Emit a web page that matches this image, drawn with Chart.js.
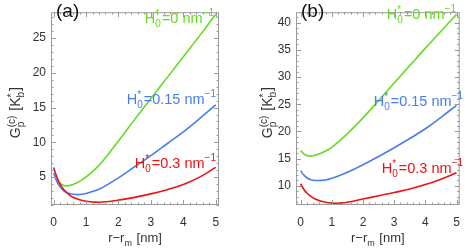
<!DOCTYPE html>
<html>
<head>
<meta charset="utf-8">
<script src="https://cdn.jsdelivr.net/npm/chart.js@4/dist/chart.umd.min.js"></script>
<style>
  html, body { margin: 0; padding: 0; background: #fff; }
  #wrap { position: relative; width: 470px; height: 250px; }
  canvas { position: absolute; top: 0; }
  #chart-a { left: 0; }
  #chart-b { left: 235px; }
</style>
</head>
<body>
<div id="wrap">
  <canvas id="chart-a" width="235" height="250"></canvas>
  <canvas id="chart-b" width="235" height="250"></canvas>
</div>
<script>
// ---------- Data ----------

// r - r_m [nm]
const rValues = [0, 0.1, 0.2, 0.3, 0.4, 0.5, 0.6, 0.8, 1.0, 1.25, 1.5, 2.0, 2.5, 3.0, 3.5, 4.0, 4.5, 5.0];

// panel (a)
const aGreen = [null, 4.6, 4.1, 3.85, 3.75, 3.8, 3.95, 4.4, 5.05, 6.0, 7.2, 10.2, 13.3, 16.3, 19.3, 22.3, 25.3, 28.4];
const aBlue  = [5.6, 4.4, 3.6, 3.1, 2.8, 2.65, 2.55, 2.5, 2.65, 3.0, 3.5, 4.9, 6.5, 8.1, 9.8, 11.5, 13.4, 15.4];
const aRed   = [6.4, 5.0, 4.0, 3.3, 2.8, 2.4, 2.1, 1.75, 1.55, 1.42, 1.42, 1.7, 2.1, 2.6, 3.2, 3.95, 5.0, 6.4];

// panel (b)
const bGreen = [16.5, 15.9, 15.6, 15.5, 15.55, 15.7, 15.9, 16.4, 17.1, 18.3, 19.6, 22.5, 25.7, 28.9, 32.1, 35.3, 38.4, 41.5];
const bBlue  = [12.8, 12.0, 11.5, 11.2, 11.05, 11.0, 11.0, 11.1, 11.4, 11.9, 12.5, 13.9, 15.4, 17.0, 18.7, 20.5, 22.6, 24.8];
const bRed   = [10.4, 9.4, 8.7, 8.2, 7.8, 7.5, 7.3, 7.0, 6.85, 6.85, 7.0, 7.6, 8.2, 8.8, 9.45, 10.25, 11.25, 12.4];

const xTicks = [0, 1, 2, 3, 4, 5];
const aYTicks = [5, 10, 15, 20, 25];
const bYTicks = [10, 15, 20, 25, 30, 35, 40];

const seriesLabels = ["0", "0.15", "0.3"];

const GREEN = "#62dc1e";
const BLUE = "#4a7cf0";
const RED = "#ee1212";
const FONT = '"Liberation Sans", Arial, sans-serif';

// ---------- Helpers ----------

function points(ys) {
  return rValues.map((x, i) => ({ x, y: ys[i] }));
}

// draws text with stacked sub/superscripts; parts are strings or {sub, sup}
function drawRich(ctx, parts, x, y, size, align) {
  const big = `${size}px ${FONT}`;
  const small = `${Math.round(size * 0.68)}px ${FONT}`;
  const widths = parts.map((p) => {
    if (typeof p === "string") {
      ctx.font = big;
      return ctx.measureText(p).width;
    }
    ctx.font = small;
    const ws = p.sub ? ctx.measureText(p.sub).width : 0;
    const wp = p.sup ? ctx.measureText(p.sup).width : 0;
    return Math.max(ws, wp) + 1;
  });
  const total = widths.reduce((a, b) => a + b, 0);
  let cx = align === "center" ? x - total / 2 : align === "right" ? x - total : x;
  ctx.textAlign = "left";
  ctx.textBaseline = "alphabetic";
  parts.forEach((p, i) => {
    if (typeof p === "string") {
      ctx.font = big;
      ctx.fillText(p, cx, y);
    } else {
      ctx.font = small;
      if (p.sub) ctx.fillText(p.sub, cx, y + size * 0.28);
      if (p.sup) ctx.fillText(p.sup, cx, y - size * (p.sub ? 0.38 : 0.45));
    }
    cx += widths[i];
  });
}

function hLabel(value) {
  return ["H", { sub: "0", sup: "*" }, `=${value} nm`, { sup: "\u22121" }];
}

// frame with inward ticks on all four sides, Mathematica style
const framePlugin = {
  id: "frame",
  afterDraw(chart, args, opts) {
    const ctx = chart.ctx;
    const a = chart.chartArea;
    const xs = chart.scales.x;
    const ys = chart.scales.y;
    ctx.save();
    ctx.strokeStyle = "#9a9a9a";
    ctx.lineWidth = 1;
    ctx.strokeRect(a.left + 0.5, a.top + 0.5, a.right - a.left - 1, a.bottom - a.top - 1);

    ctx.beginPath();
    const xMinor = opts.xMinor, yMinor = opts.yMinor;
    for (let v = Math.ceil(xs.min / xMinor) * xMinor; v <= xs.max + 1e-9; v += xMinor) {
      const major = Math.abs(v - Math.round(v / opts.xMajor) * opts.xMajor) < 1e-6;
      const len = major ? 5 : 2.5;
      const px = Math.round(xs.getPixelForValue(v)) + 0.5;
      ctx.moveTo(px, a.bottom);
      ctx.lineTo(px, a.bottom - len);
      ctx.moveTo(px, a.top);
      ctx.lineTo(px, a.top + len);
    }
    for (let v = Math.ceil(ys.min / yMinor) * yMinor; v <= ys.max + 1e-9; v += yMinor) {
      const major = Math.abs(v - Math.round(v / opts.yMajor) * opts.yMajor) < 1e-6;
      const len = major ? 5 : 2.5;
      const py = Math.round(ys.getPixelForValue(v)) + 0.5;
      ctx.moveTo(a.left, py);
      ctx.lineTo(a.left + len, py);
      ctx.moveTo(a.right, py);
      ctx.lineTo(a.right - len, py);
    }
    ctx.stroke();

    // panel tag, annotations and axis titles
    ctx.fillStyle = "#111";
    ctx.font = `19px ${FONT}`;
    ctx.textAlign = "left";
    ctx.textBaseline = "alphabetic";
    ctx.fillText(opts.tag, a.left + 5, 17);

    opts.notes.forEach((n) => {
      ctx.fillStyle = n.color;
      drawRich(ctx, hLabel(n.text), n.x, n.y, 14.5, "right");
    });

    ctx.fillStyle = "#333";
    drawRich(ctx, ["r\u2212r", { sub: "m" }, " [nm]"], (a.left + a.right) / 2, 242, 13, "center");

    ctx.translate(opts.yTitleX, (a.top + a.bottom) / 2 + 4);
    ctx.rotate(-Math.PI / 2);
    drawRich(ctx, ["G", { sub: "p", sup: "(c)" }, " [K", { sub: "b", sup: "*" }, "]"], 0, 0, 14, "center");
    ctx.restore();
  },
};

function makeChart(id, cfg) {
  const line = (data, color, order) => ({
    data: points(data),
    borderColor: color,
    borderWidth: 1.6,
    pointRadius: 0,
    showLine: true,
    fill: false,
    tension: 0.4,
    order,
  });

  return new Chart(document.getElementById(id), {
    type: "scatter",
    data: {
      datasets: [
        line(cfg.green, GREEN, 3),
        line(cfg.blue, BLUE, 2),
        line(cfg.red, RED, 1),
      ],
    },
    options: {
      responsive: false,
      animation: false,
      events: [],
      layout: { padding: { left: 0, right: cfg.padRight, top: 3, bottom: 0 } },
      plugins: {
        legend: { display: false },
        tooltip: { enabled: false },
        frame: cfg.frame,
      },
      scales: {
        x: {
          type: "linear",
          min: cfg.xMin,
          max: cfg.xMax,
          grid: { display: false, drawTicks: false },
          border: { display: false },
          afterBuildTicks: (s) => { s.ticks = xTicks.map((v) => ({ value: v })); },
          afterFit: (s) => { s.height = 45; },
          ticks: { color: "#333", padding: 10, font: { family: FONT, size: 12 }, maxRotation: 0 },
        },
        y: {
          type: "linear",
          min: cfg.yMin,
          max: cfg.yMax,
          grid: { display: false, drawTicks: false },
          border: { display: false },
          afterBuildTicks: (s) => { s.ticks = cfg.yTicks.map((v) => ({ value: v })); },
          afterFit: (s) => { s.width = cfg.yWidth; },
          ticks: { color: "#333", padding: 5, font: { family: FONT, size: 12 } },
        },
      },
    },
    plugins: [framePlugin],
  });
}

// ---------- Panels ----------

makeChart("chart-a", {
  green: aGreen, blue: aBlue, red: aRed,
  xMin: -0.08, xMax: 5.1, yMin: 1.0, yMax: 28.7,
  yTicks: aYTicks, yWidth: 51, padRight: 16,
  frame: {
    tag: "(a)", xMajor: 1, xMinor: 0.2, yMajor: 5, yMinor: 1, yTitleX: 20,
    notes: [
      { text: seriesLabels[0], color: GREEN, x: 215, y: 22.5 },
      { text: seriesLabels[1], color: BLUE, x: 217, y: 104 },
      { text: seriesLabels[2], color: RED, x: 217, y: 167.5 },
    ],
  },
});

makeChart("chart-b", {
  green: bGreen, blue: bBlue, red: bRed,
  xMin: -0.15, xMax: 5.1, yMin: 6.5, yMax: 41.9,
  yTicks: bYTicks, yWidth: 61, padRight: 6,
  frame: {
    tag: "(b)", xMajor: 1, xMinor: 0.2, yMajor: 5, yMinor: 1, yTitleX: 37,
    notes: [
      { text: seriesLabels[0], color: GREEN, x: 222, y: 19 },
      { text: seriesLabels[1], color: BLUE, x: 229, y: 105.5 },
      { text: seriesLabels[2], color: RED, x: 229, y: 173 },
    ],
  },
});
</script>
</body>
</html>
